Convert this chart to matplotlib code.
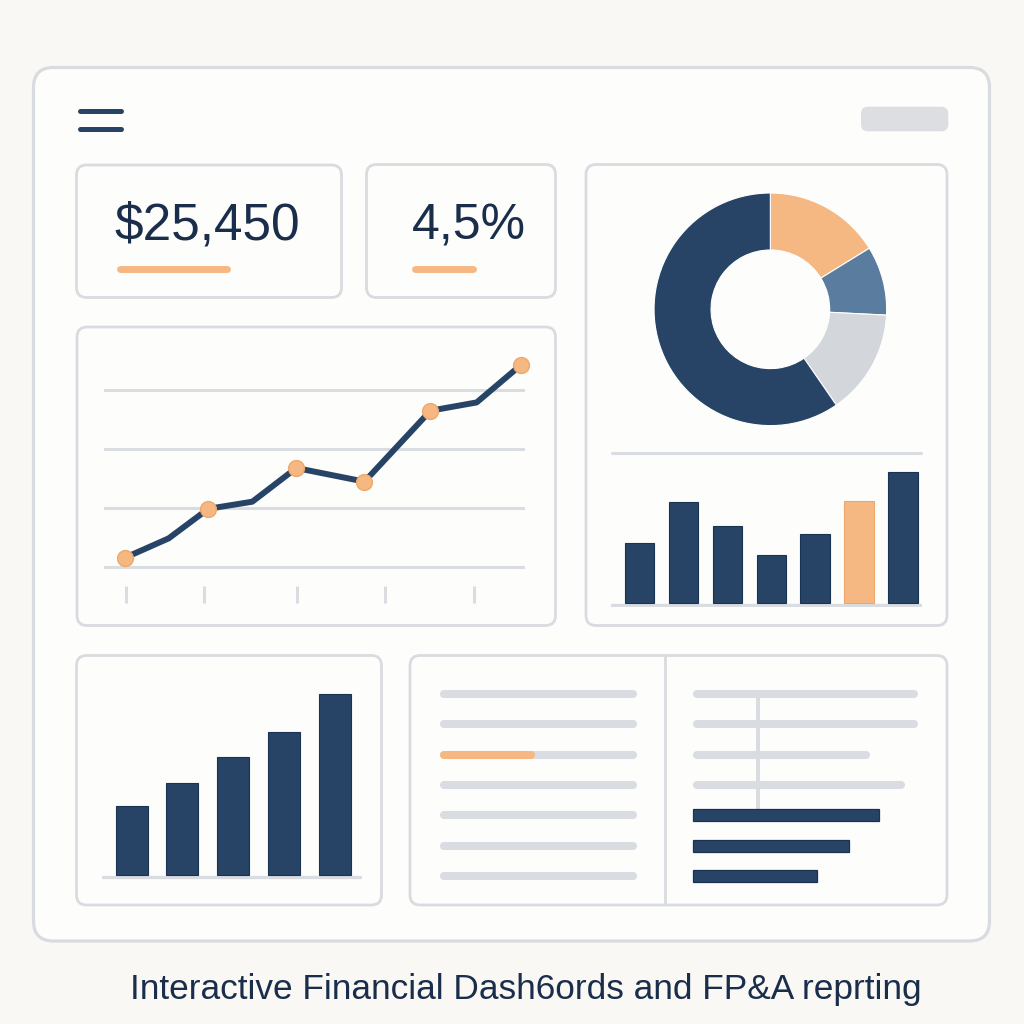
import matplotlib
matplotlib.use("Agg")
import matplotlib.pyplot as plt
from matplotlib.patches import FancyBboxPatch

# ---------------- data ----------------
kpi_labels = ["$25,450", "4,5%"]

line_x = [0, 1, 1.9, 2.9, 3.9, 5.45, 6.95, 8, 9]
line_y = [1.6, 4.9, 9.9, 11.1, 16.8, 14.5, 26.5, 27.9, 34.2]
line_highlight = [0, 2, 4, 5, 6, 8]
line_grid = [0, 10, 20, 30]
line_ticks = [0.04, 1.8, 3.91, 5.91, 7.94]

donut_values = [16.2, 9.6, 14.6, 59.6]

right_bars = [60, 101, 77, 48, 69, 102, 131]
right_highlight = 5
left_bars = [69, 92, 118, 143, 181]

table_left_lengths = [197, 197, 197, 197, 197, 197, 197]
table_progress = 95
table_right_lengths = [225, 225, 177, 212]
table_right_bars = [186, 156, 124]

title = "Interactive Financial Dash6ords and FP&A reprting"

# ---------------- style ----------------
PAGE = "#f9f8f4"
PANEL = "#fdfdfb"
BORDER = "#d8dbdf"
NAVY = "#274466"
NAVY_EDGE = "#1b3352"
ORANGE = "#f6b883"
ORANGE_EDGE = "#eea76a"
MIDBLUE = "#5a7d9f"
LIGHTGRAY = "#d3d6da"
GRID = "#d9dce0"
TEXT = "#1a2e4b"
FONT = "Liberation Sans"

W = H = 1024
fig = plt.figure(figsize=(10.24, 10.24), dpi=100)
fig.patch.set_facecolor(PAGE)

bg = fig.add_axes([0, 0, 1, 1])
bg.set_xlim(0, W)
bg.set_ylim(H, 0)
bg.set_axis_off()
bg.patch.set_alpha(0)


def px_axes(x0, y0, x1, y1):
    ax = fig.add_axes([x0 / W, 1 - y1 / H, (x1 - x0) / W, (y1 - y0) / H])
    ax.set_axis_off()
    ax.patch.set_alpha(0)
    return ax


def panel(x0, y0, x1, y1, r=10, lw=2.0):
    bg.add_patch(FancyBboxPatch((x0, y0), x1 - x0, y1 - y0,
                                boxstyle=f"round,pad=0,rounding_size={r}",
                                fc=PANEL, ec=BORDER, lw=lw, zorder=1))


# outer frame
panel(33.5, 67.5, 989.5, 941, r=20, lw=2.3)
# header
bg.plot([79.5, 121], [110.7, 110.7], color=NAVY, lw=3.6, solid_capstyle="round", zorder=3)
bg.plot([79.5, 121], [129.3, 129.3], color=NAVY, lw=3.6, solid_capstyle="round", zorder=3)
bg.add_patch(FancyBboxPatch((861, 106.7), 87.3, 24.6,
                            boxstyle="round,pad=0,rounding_size=7",
                            fc="#dcdee1", ec="none", zorder=2))

# panels
panel(76.5, 165, 341.5, 297.5)
panel(366.5, 164.5, 555.5, 297.5)
panel(77, 327, 555.5, 625.5)
panel(586, 164.5, 947, 625.5)
panel(76.5, 655.5, 381.5, 905)
panel(410, 655.5, 947, 905)
bg.plot([665, 665], [656.5, 904], color=BORDER, lw=2.0, zorder=2)

# KPI cards
bg.text(114, 239.5, kpi_labels[0], fontsize=37, family=FONT, color=TEXT,
        ha="left", va="baseline", zorder=3)
bg.text(412, 239.5, kpi_labels[1], fontsize=36, family=FONT, color=TEXT,
        ha="left", va="baseline", zorder=3)
bg.plot([119.5, 227], [269.3, 269.3], color=ORANGE, lw=5, solid_capstyle="round", zorder=3)
bg.plot([414.5, 473], [269.3, 269.3], color=ORANGE, lw=5, solid_capstyle="round", zorder=3)

# ---- line chart ----
ax = px_axes(104, 340, 525, 610)
ax.set_xlim(-0.47, 9.098)
ax.set_ylim(-7.22, 38.46)
for g in line_grid:
    ax.axhline(g, color=GRID, lw=2.2, zorder=1)
ax.vlines(line_ticks, -3.2, -6.0, color=GRID, lw=2.2, zorder=1)
ax.plot(line_x, line_y, color=NAVY, lw=4.3, solid_capstyle="round",
        solid_joinstyle="round", zorder=3, clip_on=False)
ax.scatter([line_x[i] for i in line_highlight], [line_y[i] for i in line_highlight],
           s=130, fc=ORANGE, ec=ORANGE_EDGE, lw=1.0, zorder=4, clip_on=False)

# ---- donut ----
ax = px_axes(654, 193, 886.7, 425.6)
ax.pie(donut_values, colors=[ORANGE, MIDBLUE, LIGHTGRAY, NAVY], startangle=90,
       counterclock=False, wedgeprops=dict(width=0.49, edgecolor="white", linewidth=0.8))
ax.set_xlim(-1, 1)
ax.set_ylim(-1, 1)

bg.plot([612, 921], [453, 453], color=GRID, lw=2.2, solid_capstyle="round", zorder=2)

# ---- right bar chart ----
ax = px_axes(611, 460, 922, 607)
ax.set_xlim(-0.65, 6.435)
ax.set_ylim(-3.7, 143.3)
ax.axhline(-1.6, color=GRID, lw=2.4, zorder=1)
cols = [ORANGE if i == right_highlight else NAVY for i in range(len(right_bars))]
ecols = [ORANGE_EDGE if i == right_highlight else NAVY_EDGE for i in range(len(right_bars))]
ax.bar(range(len(right_bars)), right_bars, width=0.67, color=cols, edgecolor=ecols,
       linewidth=0.8, zorder=2)

# ---- bottom-left bar chart ----
ax = px_axes(102.3, 680, 362, 880)
ax.set_xlim(-0.58, 4.54)
ax.set_ylim(-5.3, 194.7)
ax.axhline(-2, color=GRID, lw=2.4, zorder=1)
ax.bar(range(len(left_bars)), left_bars, width=0.63, color=NAVY, edgecolor=NAVY_EDGE,
       linewidth=0.8, zorder=2)

# ---- table panel ----
ax = px_axes(430, 680, 930, 890)
ax.set_xlim(-10, 490)
ax.set_ylim(6.46, -0.46)
cap = 4
for i, L in enumerate(table_left_lengths):
    ax.plot([cap, L - cap], [i, i], color=GRID, lw=5.8, solid_capstyle="round", zorder=1)
ax.plot([cap, table_progress - cap], [2, 2], color=ORANGE, lw=5.8,
        solid_capstyle="round", zorder=2)
rx = 253
ax.plot([318, 318], [0, 3.76], color=GRID, lw=2.9, zorder=1)
for i, L in enumerate(table_right_lengths):
    ax.plot([rx + cap, rx + L - cap], [i, i], color=GRID, lw=5.8,
            solid_capstyle="round", zorder=1)
n = len(table_right_lengths)
ax.barh(range(n, n + len(table_right_bars)), table_right_bars, left=rx, height=0.4,
        color=NAVY, edgecolor=NAVY_EDGE, linewidth=0.9, zorder=2)

# ---- title ----
bg.text(526, 999, title, fontsize=25.4, family=FONT, color=TEXT, ha="center",
        va="baseline", zorder=3)

fig.savefig("out.png", dpi=100, facecolor=PAGE)
